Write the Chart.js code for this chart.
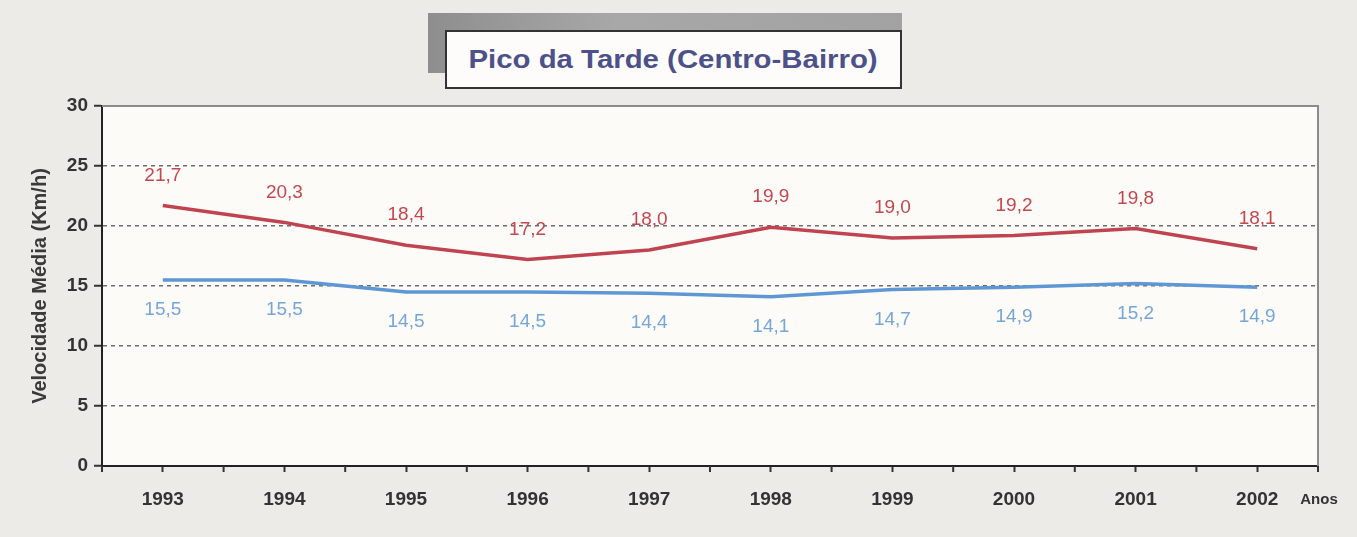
<!DOCTYPE html>
<html>
<head>
<meta charset="utf-8">
<script src="https://cdn.jsdelivr.net/npm/chart.js@4"></script>
<style>
  html, body { margin: 0; padding: 0; background: #ecebe8; }
  #wrap { position: relative; width: 1357px; height: 537px; }
  #shadow { position: absolute; left: 428px; top: 13px; width: 474px; height: 60px;
    background: linear-gradient(90deg, #8e8e8e, #a8a8a8 40%, #a2a2a2); }
  #titlebox { position: absolute; left: 445px; top: 30px; width: 453px; height: 55px;
    background: #fdfcfa; border: 2px solid #333; display: flex; align-items: center; justify-content: center; }
  #titlebox span { font: bold 26px "Liberation Sans", Arial, sans-serif; color: #4d5189;
    display: inline-block; transform: scaleX(1.13); }
  canvas { position: absolute; left: 0; top: 0; }
</style>
</head>
<body>
<div id="wrap">
  <canvas id="chart" width="1357" height="537"></canvas>
  <div id="shadow"></div>
  <div id="titlebox"><span>Pico da Tarde (Centro-Bairro)</span></div>
</div>
<script>
// Chart data
const years = ['1993', '1994', '1995', '1996', '1997', '1998', '1999', '2000', '2001', '2002'];
const redSpeeds = [21.7, 20.3, 18.4, 17.2, 18.0, 19.9, 19.0, 19.2, 19.8, 18.1];
const blueSpeeds = [15.5, 15.5, 14.5, 14.5, 14.4, 14.1, 14.7, 14.9, 15.2, 14.9];
const yTicks = [0, 5, 10, 15, 20, 25, 30];

const FONT = '"Liberation Sans", Arial, sans-serif';

// plot background, grey top/right frame, extra x ticks, "Anos"
const framePlugin = {
    id: 'frame',
    beforeDraw(chart) {
        const { ctx, chartArea: a } = chart;
        ctx.save();
        ctx.fillStyle = '#fdfbf8';
        ctx.fillRect(a.left, a.top, a.right - a.left, a.bottom - a.top);
        ctx.restore();
    },
    afterDraw(chart) {
        const { ctx, chartArea: a } = chart;
        const x = chart.scales.x;
        ctx.save();
        ctx.strokeStyle = '#8a8a8a';
        ctx.lineWidth = 2;
        ctx.beginPath();
        ctx.moveTo(a.left, a.top);
        ctx.lineTo(a.right, a.top);
        ctx.lineTo(a.right, a.bottom);
        ctx.stroke();
        // tick marks on the category boundaries
        const half = (x.getPixelForValue(1) - x.getPixelForValue(0)) / 2;
        ctx.strokeStyle = '#333';
        ctx.beginPath();
        for (let i = 0; i <= years.length; i++) {
            const px = x.getPixelForValue(i) - half;
            ctx.moveTo(px, a.bottom);
            ctx.lineTo(px, a.bottom + 6);
        }
        ctx.stroke();
        ctx.fillStyle = '#333';
        ctx.font = 'bold 15px ' + FONT;
        ctx.textAlign = 'center';
        ctx.textBaseline = 'middle';
        ctx.fillText('Anos', a.right + 1, 500);
        ctx.restore();
    }
};

// value labels above the red line and below the blue one
const valueLabels = {
    id: 'valueLabels',
    afterDatasetsDraw(chart) {
        const { ctx } = chart;
        ctx.save();
        ctx.font = '19px ' + FONT;
        ctx.textAlign = 'center';
        ctx.textBaseline = 'middle';
        chart.data.datasets.forEach((ds, di) => {
            const meta = chart.getDatasetMeta(di);
            ctx.fillStyle = ds.labelColor;
            meta.data.forEach((pt, i) => {
                const txt = ds.data[i].toFixed(1).replace('.', ',');
                ctx.fillText(txt, pt.x, pt.y + ds.labelOffset);
            });
        });
        ctx.restore();
    }
};

new Chart(document.getElementById('chart'), {
    type: 'line',
    data: {
        labels: years,
        datasets: [{
            data: redSpeeds,
            borderColor: '#bf4450',
            borderWidth: 3.5,
            pointRadius: 0,
            tension: 0,
            labelColor: '#c2474f',
            labelOffset: -30
        }, {
            data: blueSpeeds,
            borderColor: '#5f97d4',
            borderWidth: 3.5,
            pointRadius: 0,
            tension: 0,
            labelColor: '#74a6d8',
            labelOffset: 30
        }]
    },
    options: {
        responsive: false,
        animation: false,
        layout: { padding: { top: 106, right: 39, left: 0, bottom: 0 } },
        plugins: { legend: { display: false }, tooltip: { enabled: false } },
        scales: {
            x: {
                offset: true,
                afterFit: s => { s.height = 71; },
                grid: { offset: false, drawOnChartArea: false, tickLength: 6, tickColor: '#333', tickWidth: 2 },
                border: { color: '#222', width: 2 },
                ticks: { color: '#333', padding: 16, font: { family: FONT, size: 19, weight: 'bold' } }
            },
            y: {
                min: 0,
                max: 30,
                afterFit: s => { s.width = 102; },
                afterBuildTicks: s => { s.ticks = yTicks.map(v => ({ value: v })); },
                grid: {
                    color: c => (c.tick.value > 0 && c.tick.value < 30) ? '#6e6e6e' : 'rgba(0,0,0,0)',
                    lineWidth: 1.5,
                    tickLength: 8,
                    tickColor: '#333',
                    tickWidth: 2
                },
                border: { color: '#222', width: 2, dash: [4, 4] },
                ticks: { color: '#333', padding: 6, font: { family: FONT, size: 19, weight: 'bold' } },
                title: {
                    display: true,
                    text: 'Velocidade Média (Km/h)',
                    color: '#3a3a3a',
                    padding: { top: 28, bottom: 0 },
                    font: { family: FONT, size: 20, weight: 'bold' }
                }
            }
        }
    },
    plugins: [framePlugin, valueLabels]
});
</script>
</body>
</html>
